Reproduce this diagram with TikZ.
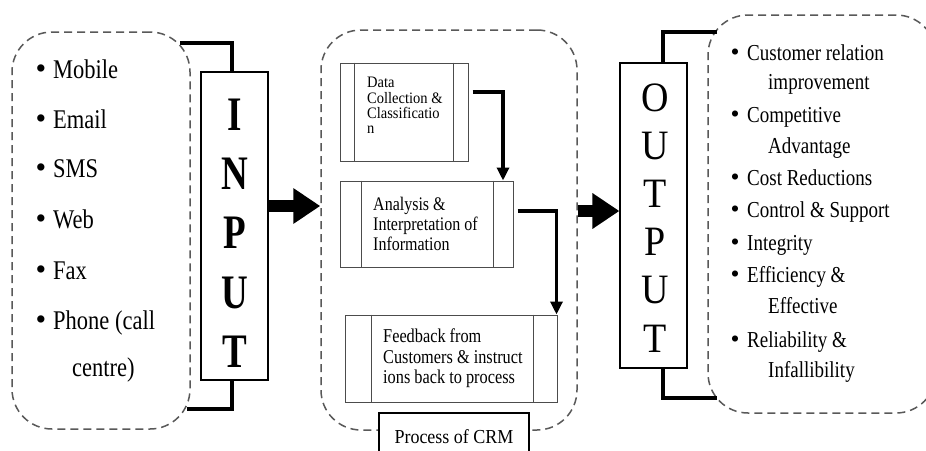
\documentclass[tikz,border=0pt]{standalone}
\usepackage{fontspec}
\setmainfont{Liberation Serif}
\usepackage{graphicx}
\usetikzlibrary{arrows.meta}
\newcommand\vs[2]{\scalebox{1}[#1]{#2}}
\newcommand\blt{\scalebox{1.35}{\textbullet}}
\begin{document}
\begin{tikzpicture}[x=1pt,y=-1pt,
  dbox/.style={draw=black!65, dash pattern=on 8pt off 5pt, line width=1.5pt, rounded corners=40pt, inner sep=0pt},
  framebox/.style={draw=black, line width=1.2pt, inner sep=0pt},
  pbox/.style={draw=black!70, line width=1pt, inner sep=0pt},
  bracket/.style={line width=3.2pt, line join=miter},
  parrow/.style={line width=3.2pt, line join=miter, -{Triangle[length=13pt,width=12pt]}},
  bigarrow/.style={line width=11.5pt, -{Triangle[length=27pt,width=34pt]}},
  ltxt/.style={anchor=base west, inner sep=0pt, font=\fontsize{22.5}{27}\selectfont},
  rtxt/.style={anchor=base west, inner sep=0pt, font=\fontsize{19}{23}\selectfont},
  dtxt/.style={anchor=base west, inner sep=0pt, font=\fontsize{14.5}{17}\selectfont},
  atxt/.style={anchor=base west, inner sep=0pt, font=\fontsize{16}{19}\selectfont},
  ftxt/.style={anchor=base west, inner sep=0pt, font=\fontsize{16.3}{19}\selectfont},
  inl/.style={anchor=base, inner sep=0pt, font=\fontsize{37}{40}\selectfont\bfseries},
  outl/.style={anchor=base, inner sep=0pt, font=\fontsize{38}{40}\selectfont}
]
\clip (0,0) rectangle (926,450);
\fill[white] (0,0) rectangle (926,450);

% dashed groups
\node[dbox, minimum width=178pt, minimum height=397pt] (inlist) at (101,230.5) {};
\node[dbox, minimum width=256pt, minimum height=400pt] (mid) at (449,230) {};
\node[dbox, minimum width=228pt, minimum height=398pt] (outlist) at (822,214) {};

% INPUT / OUTPUT boxes
\node[framebox, minimum width=67pt, minimum height=308pt] (inbox) at (234.5,226) {};
\node[framebox, minimum width=67pt, minimum height=305pt] (outbox) at (653.5,215.5) {};

% brackets
\coordinate (itop) at (180,43);
\coordinate (ibot) at (187,409);
\draw[bracket] (itop) -| ([xshift=-2.5pt]inbox.north);
\draw[bracket] (ibot) -| ([xshift=-2.5pt]inbox.south);
\coordinate (otop) at (717,32);
\coordinate (obot) at (717,398);
\draw[bracket] (otop) -| ([xshift=9.5pt]outbox.north);
\draw[bracket] (obot) -| ([xshift=9.5pt]outbox.south);

% INPUT letters
\foreach \l/\y [count=\i] in {I/130,N/189,P/248.5,U/308,T/367}
  \node[inl] (in\i) at (234.5,\y) {\vs{1.3}{\l}};
% OUTPUT letters
\foreach \l/\y [count=\i] in {O/111,U/159.2,T/207.4,P/255.6,U/303.8,T/352}
  \node[outl] (out\i) at (655,\y) {\vs{1.1}{\l}};

% input list
\foreach \t/\y [count=\i] in {Mobile/78,Email/128,SMS/177,Web/228,Fax/279,{Phone (call}/329}{
  \node[ltxt] (lb\i) at (35.5,\y) {\blt};
  \node[ltxt] (lt\i) at (53,\y) {\vs{1.2}{\t}};
}
\node[ltxt] (lt7) at (72,376) {\vs{1.2}{centre)}};

% output list
\foreach \t/\y [count=\i] in {{Customer relation}/60,Competitive/122,{Cost Reductions}/185,{Control \& Support}/217,Integrity/250,{Efficiency \&}/282,{Reliability \&}/347}{
  \node[rtxt] (rb\i) at (730.5,\y) {\blt};
  \node[rtxt] (rt\i) at (747,\y) {\vs{1.2}{\t}};
}
\foreach \t/\y [count=\i] in {improvement/89,Advantage/153,Effective/313,Infallibility/377}
  \node[rtxt] (rc\i) at (768,\y) {\vs{1.2}{\t}};

% process boxes
\node[pbox, minimum width=128pt, minimum height=98pt] (dbx) at (404,112) {};
\draw[pbox] ([xshift=15pt]dbx.north west) -- ([xshift=15pt]dbx.south west);
\draw[pbox] ([xshift=-15pt]dbx.north east) -- ([xshift=-15pt]dbx.south east);
\node[pbox, minimum width=173pt, minimum height=86pt] (anb) at (426.5,224) {};
\draw[pbox] ([xshift=22pt]anb.north west) -- ([xshift=22pt]anb.south west);
\draw[pbox] ([xshift=-20pt]anb.north east) -- ([xshift=-20pt]anb.south east);
\node[pbox, minimum width=212pt, minimum height=87pt] (fbb) at (451,358.5) {};
\draw[pbox] ([xshift=27pt]fbb.north west) -- ([xshift=27pt]fbb.south west);
\draw[pbox] ([xshift=-24pt]fbb.north east) -- ([xshift=-24pt]fbb.south east);

\foreach \t/\y [count=\i] in {Data/87,{Collection \&}/103,Classificatio/118,n/133}
  \node[dtxt] (dt\i) at (367,\y) {\vs{1.1}{\t}};
\foreach \t/\y [count=\i] in {{Analysis \&}/210,{Interpretation of}/230,Information/250}
  \node[atxt] (at\i) at (373,\y) {\vs{1.2}{\t}};
\foreach \t/\y [count=\i] in {{Feedback from}/342,{Customers \& instruct}/363,{ions back to process}/383}
  \node[ftxt] (ft\i) at (383,\y) {\vs{1.2}{\t}};

% process arrows
\draw[parrow] ([shift={(4pt,20pt)}]dbx.east) -| ([xshift=76.5pt]anb.north);
\draw[parrow] ([shift={(4pt,13pt)}]anb.east) -| ([xshift=-1pt]fbb.north east);

% CRM label box
\node[draw=black, line width=1.3pt, fill=white, minimum width=150pt, minimum height=57pt, inner sep=0pt] (crm) at (454,441.5) {};
\node[anchor=base, inner sep=0pt, font=\fontsize{18}{20}\selectfont] (crmt) at (454,443) {\vs{1.1}{Process of CRM}};

% big arrows
\draw[bigarrow] ([yshift=20pt]inbox.east) -- ([yshift=20pt]inbox.east -| mid.west);
\draw[bigarrow] ([yshift=4.5pt]outbox.west -| mid.east) -- ([yshift=4.5pt]outbox.west);
\end{tikzpicture}
\end{document}
